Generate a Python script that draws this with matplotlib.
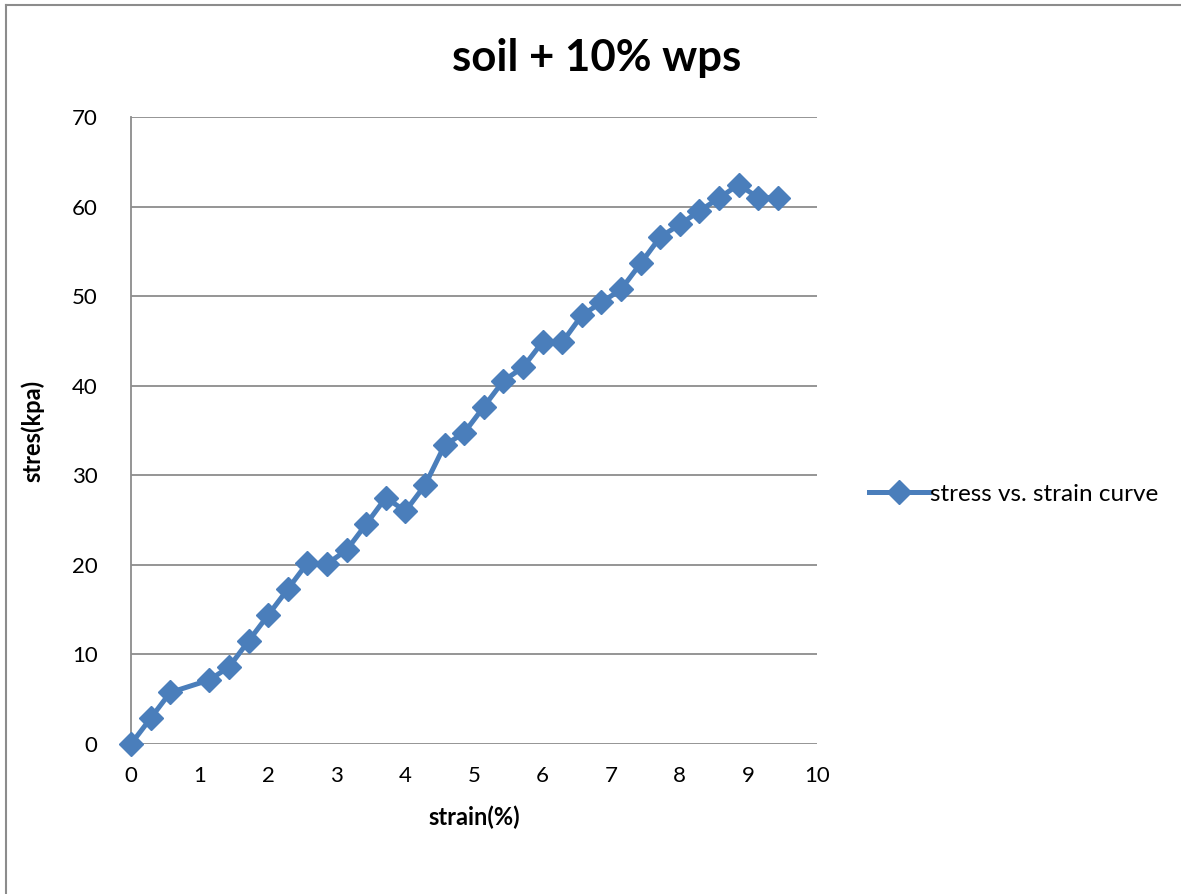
import matplotlib
matplotlib.use("Agg")
import matplotlib.pyplot as plt
from matplotlib.lines import Line2D

plt.rcParams['font.family'] = ['Lato', 'DejaVu Sans']

strain = [0.0, 0.286, 0.571, 1.143, 1.429, 1.714, 2.0, 2.286, 2.571, 2.857,
          3.143, 3.429, 3.714, 4.0, 4.286, 4.571, 4.857, 5.143, 5.429, 5.714,
          6.0, 6.286, 6.571, 6.857, 7.143, 7.429, 7.714, 8.0, 8.286, 8.571,
          8.857, 9.143, 9.429]
stress = [0.0, 2.87, 5.75, 7.15, 8.6, 11.5, 14.4, 17.3, 20.2, 20.1,
          21.65, 24.55, 27.5, 26.0, 28.9, 33.35, 34.75, 37.65, 40.55, 42.05,
          44.9, 44.85, 47.85, 49.3, 50.75, 53.65, 56.6, 58.0, 59.5, 60.95,
          62.45, 61.0, 61.0]
x_ticks = list(range(0, 11))
y_ticks = list(range(0, 71, 10))

W, H = 1181, 894
fig = plt.figure(figsize=(W / 100, H / 100), dpi=100)
ax = fig.add_axes([131 / W, 1 - 744 / H, 686 / W, 627 / H])

ax.plot(strain, stress, color='#4A7EBB', lw=3.6, marker='D', ms=12.5,
        mec='#4A7EBB', mfc='#4A7EBB', label='stress vs. strain curve',
        clip_on=False, zorder=3)

ax.set_xlim(0, 10)
ax.set_ylim(0, 70)
ax.set_xticks(x_ticks)
ax.set_yticks(y_ticks)
ax.tick_params(length=0, labelsize=16, pad=16)
ax.tick_params(axis='y', pad=24)
ax.grid(axis='y', color='#8C8C8C', lw=1.3)
ax.set_axisbelow(True)
for s in ['top', 'right', 'bottom']:
    ax.spines[s].set_visible(False)
ax.spines['left'].set_color('#8C8C8C')
ax.spines['left'].set_linewidth(1.3)

ax.set_xlabel('strain(%)', fontsize=17, fontweight='bold', labelpad=14)
ax.set_ylabel('stres(kpa)', fontsize=17, fontweight='bold', labelpad=20)
fig.text(597 / W, 1 - 58 / H, 'soil + 10% wps', ha='center', va='center',
         fontsize=31.5, fontweight='bold')

leg = ax.legend(loc='center left', bbox_to_anchor=(869 / W, 1 - 494 / H),
                bbox_transform=fig.transFigure, frameon=False, fontsize=17.5,
                handlelength=2.45, handletextpad=0.08, borderaxespad=0,
                borderpad=0)

# Chart area border
fig.add_artist(Line2D([6 / W, 6 / W], [0, 1 - 5 / H], color='#8C8C8C', lw=1.5,
                      transform=fig.transFigure))
fig.add_artist(Line2D([6 / W, 1], [1 - 5 / H, 1 - 5 / H], color='#8C8C8C', lw=1.5,
                      transform=fig.transFigure))

fig.savefig('out.png', dpi=100)
